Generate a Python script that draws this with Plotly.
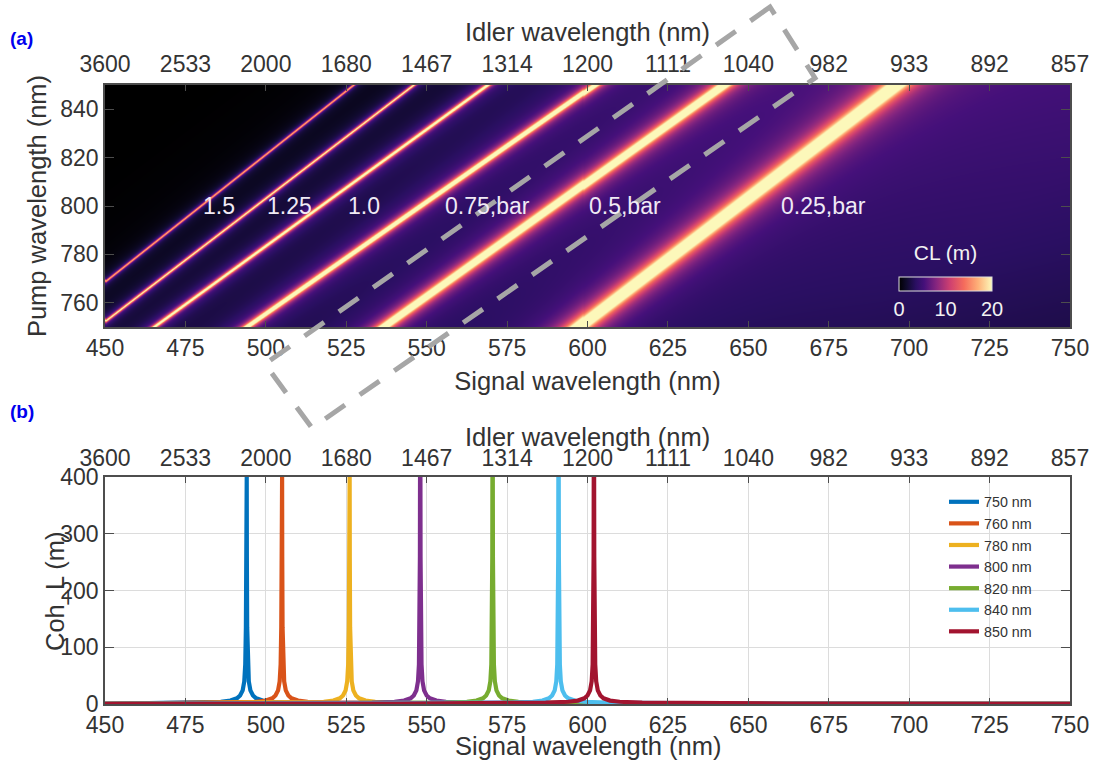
import numpy as np
import plotly.graph_objects as go

W, H = 1094, 763

# ---- axes ----
signal_ticks = [450, 475, 500, 525, 550, 575, 600, 625, 650, 675, 700, 725, 750]
idler_labels = ["3600", "2533", "2000", "1680", "1467", "1314", "1200", "1111", "1040", "982", "933", "892", "857"]
pump_ticks = [760, 780, 800, 820, 840]
coh_ticks = [0, 100, 200, 300, 400]

# ---- panel (a): ridges ----
pressure_labels = ["1.5", "1.25", "1.0", "0.75,bar", "0.5,bar", "0.25,bar"]
ridge_signal_at_750 = [432.0, 447.5, 465.0, 493.8, 536.4, 597.0]
ridge_signal_at_850 = [527.1, 545.8, 568.8, 602.0, 642.0, 695.6]
ridge_strength = [5.0, 8.0, 13.0, 22.0, 38.0, 60.0]
ridge_peak = [20.0, 24.0, 28.0, 30.0, 30.0, 30.0]
ridge_tail = [11.0, 12.0, 13.0, 14.0, 16.0, 20.0]
label_signal = [485.4, 507.4, 530.5, 569, 611.6, 673.5]
label_pump = [800, 800, 800, 800, 800, 800]

# background level read along the ridge-normal direction
bg_offset = [380, 420, 445, 465, 490, 520, 560, 620, 680, 760, 850]
bg_level = [0.0, 0.15, 0.8, 1.7, 2.6, 3.3, 3.9, 4.3, 4.1, 3.4, 2.8]
bg_pump = [750, 800, 850]
bg_pump_gain = [0.78, 1.0, 1.22]

cl_colors = [[0.0, "#000000"], [0.08, "#0f0a2c"], [0.18, "#2a0f62"], [0.27, "#45107a"],
             [0.40, "#85257f"], [0.55, "#cf4070"], [0.70, "#f56c5c"], [0.85, "#feb078"], [1.0, "#fcf8ba"]]

# ---- panel (b) ----
pump_names = ["750 nm", "760 nm", "780 nm", "800 nm", "820 nm", "840 nm", "850 nm"]
peak_signal = [494.0, 505.0, 526.0, 548.0, 570.5, 591.0, 602.0]
line_colors = ["#0072bd", "#d95319", "#edb120", "#7e2f8e", "#77ac30", "#4dbeee", "#a2142f"]
peak_offset = [-300, -150, -60, -30, -15, -8, -5, -3, -2, -1.2, -0.7, -0.4, -0.2, -0.1, -0.06,
               0, 0.06, 0.1, 0.2, 0.4, 0.7, 1.2, 2, 3, 5, 8, 15, 30, 60, 150, 300]
peak_coh = [0.2, 0.4, 0.8, 1.5, 2.5, 4, 6, 10, 15, 24, 40, 70, 135, 260, 400,
            400, 400, 260, 135, 70, 40, 24, 15, 10, 6, 4, 2.5, 1.5, 0.8, 0.4, 0.2]

# ---- build heatmap ----
sig = np.linspace(450, 750, 965)
pump = np.linspace(750, 850, 243)
S, P = np.meshgrid(sig, pump)
U = S - (P - 750) * 1.05
Z = np.interp(U, bg_offset, bg_level) * np.interp(P, bg_pump, bg_pump_gain)
for s0, s1, c, pk, tail in zip(ridge_signal_at_750, ridge_signal_at_850, ridge_strength, ridge_peak, ridge_tail):
    center = s0 + (P - 750) * (s1 - s0) / 100.0
    d = np.abs(S - center)
    Z = Z + (c / np.sqrt(d ** 2 + (c / pk) ** 2)) * np.exp(-d / tail)
Z = np.clip(Z, 0, 20)
# the reference is a soft raster: the same light softening across the row
soft = np.array([1, 2, 1]) / 4
Z = np.apply_along_axis(lambda r: np.convolve(r, soft, mode="same"), 1, Z)
Z[:, 0], Z[:, -1] = Z[:, 1], Z[:, -2]

fig = go.Figure()
fig.add_trace(go.Heatmap(
    x=sig, y=pump, z=Z, zmin=0, zmax=20, colorscale=cl_colors, zsmooth="best",
    xaxis="x", yaxis="y", hoverinfo="skip",
    colorbar=dict(orientation="h", x=899 / W, xanchor="left", y=1 - 254 / H, yanchor="top",
                  lenmode="pixels", len=93, thickness=14, outlinecolor="#dddddd", outlinewidth=1,
                  tickvals=[0, 10, 20], ticks="", tickfont=dict(color="#f2f2f2", size=20, family="Liberation Sans"),
                  title=dict(text="CL (m)", side="top", font=dict(color="#f2f2f2", size=21, family="Liberation Sans")),
                  xpad=0, ypad=0, bgcolor="rgba(0,0,0,0)"),
))
# invisible traces that make the two top axes exist
fig.add_trace(go.Scatter(x=[450, 750], y=[750, 850], xaxis="x2", yaxis="y", mode="markers",
                         marker=dict(opacity=0), showlegend=False, hoverinfo="skip"))
for name, s0, col in zip(pump_names, peak_signal, line_colors):
    xs = [s0 + o for o in peak_offset]
    xs = [450.0] + [x for x in xs if 450 < x < 750] + [750.0]
    ys = [float(peak_coh[-1])] * 1 + [c for o, c in zip(peak_offset, peak_coh) if 450 < s0 + o < 750] + [float(peak_coh[-1])]
    fig.add_trace(go.Scatter(x=xs, y=ys, xaxis="x3", yaxis="y2", mode="lines", name=name,
                             line=dict(color=col, width=4.2), cliponaxis=True))
fig.add_trace(go.Scatter(x=[450, 750], y=[0, 400], xaxis="x4", yaxis="y2", mode="markers",
                         marker=dict(opacity=0), showlegend=False, hoverinfo="skip"))

FONT = "Liberation Sans"
TXT = "#333333"
LINE = "#4d4d4d"
tickfont = dict(family=FONT, size=23, color=TXT)
titlefont = dict(family=FONT, size=25.5, color=TXT)
xdom = [105 / W, 1070 / W]
ya = [1 - 327 / H, 1 - 85 / H]
yb = [1 - 704 / H, 1 - 477 / H]


def xax(side, grid, **kw):
    d = dict(domain=xdom, range=[450, 750], tickmode="array", tickvals=signal_ticks, side=side,
             ticks="inside", ticklen=6, tickcolor=LINE, tickwidth=1.2, showline=True, linecolor=LINE, linewidth=1.5,
             tickfont=tickfont, showgrid=grid, gridcolor="#dcdcdc", gridwidth=1.2, zeroline=False)
    d.update(kw)
    return d


def yax(domain, rng, ticks, grid, **kw):
    d = dict(domain=domain, range=rng, tickmode="array", tickvals=ticks, ticks="inside", ticklen=9,
             tickcolor=LINE, tickwidth=1.2, showline=True, linecolor=LINE, linewidth=1.5, mirror="ticks",
             tickfont=tickfont, showgrid=grid, gridcolor="#dcdcdc", gridwidth=1.2, zeroline=False)
    d.update(kw)
    return d


annotations = [
    dict(text="(a)", x=8 / W, y=1 - 38 / H, font=dict(family=FONT, size=19, color="#0000ee", weight="bold")),
    dict(text="(b)", x=8 / W, y=1 - 411 / H, font=dict(family=FONT, size=19, color="#0000ee", weight="bold")),
]
for lab, sx, py in zip(pressure_labels, label_signal, label_pump):
    annotations.append(dict(text=lab, x=sx, y=py, xref="x", yref="y", xanchor="center", showarrow=False,
                            font=dict(family=FONT, size=23, color="#f0eaf5")))
for a in annotations[:2]:
    a.update(xref="paper", yref="paper", xanchor="left", yanchor="middle", showarrow=False)
# titles that sit closer to their tick labels than an axis title can
for text, px, py, angle in [("Idler wavelength (nm)", 587, 437, 0),
                            ("Signal wavelength (nm)", 588, 746, 0),
                            ("Coh_L (m)", 55, 591, -90)]:
    annotations.append(dict(text=text, x=px / W, y=1 - py / H, xref="paper", yref="paper", xanchor="center",
                            yanchor="middle", textangle=angle, showarrow=False, font=titlefont))


def P_(px, py):
    return f"{px / W:.5f},{1 - py / H:.5f}"


box = "M " + " L ".join(P_(*c) for c in [(770, 7), (265, 364), (312, 428), (815, 78)]) + " Z"

fig.update_layout(
    width=W, height=H, margin=dict(l=0, r=0, t=0, b=0, autoexpand=False), autosize=False,
    paper_bgcolor="white", plot_bgcolor="white", font=dict(family=FONT, color=TXT),
    xaxis=xax("bottom", False, anchor="y", title=dict(text="Signal wavelength (nm)", font=titlefont, standoff=12)),
    xaxis2=xax("top", False, anchor="y", overlaying="x", ticktext=idler_labels, ticklabelstandoff=2,
               title=dict(text="Idler wavelength (nm)", font=titlefont, standoff=2)),
    xaxis3=xax("bottom", True, anchor="y2"),
    xaxis4=xax("top", False, anchor="y2", overlaying="x3", ticktext=idler_labels),
    yaxis=yax(ya, [750, 850], pump_ticks, False, title=dict(text="Pump wavelength (nm)", font=titlefont, standoff=6)),
    yaxis2=yax(yb, [0, 400], coh_ticks, True),
    legend=dict(x=944 / W, y=1 - 486 / H, xanchor="left", yanchor="top", bgcolor="rgba(0,0,0,0)",
                font=dict(family=FONT, size=14.3, color=TXT), itemwidth=30, tracegroupgap=0),
    annotations=annotations,
    shapes=[dict(type="path", path=box, xref="paper", yref="paper", layer="above",
                 line=dict(color="#a6a6a6", width=5, dash="24px,18px"))],
)
fig.write_html("out.html", config={"displayModeBar": False},
               post_script="document.body.style.margin='0';document.documentElement.style.overflow='hidden';")
